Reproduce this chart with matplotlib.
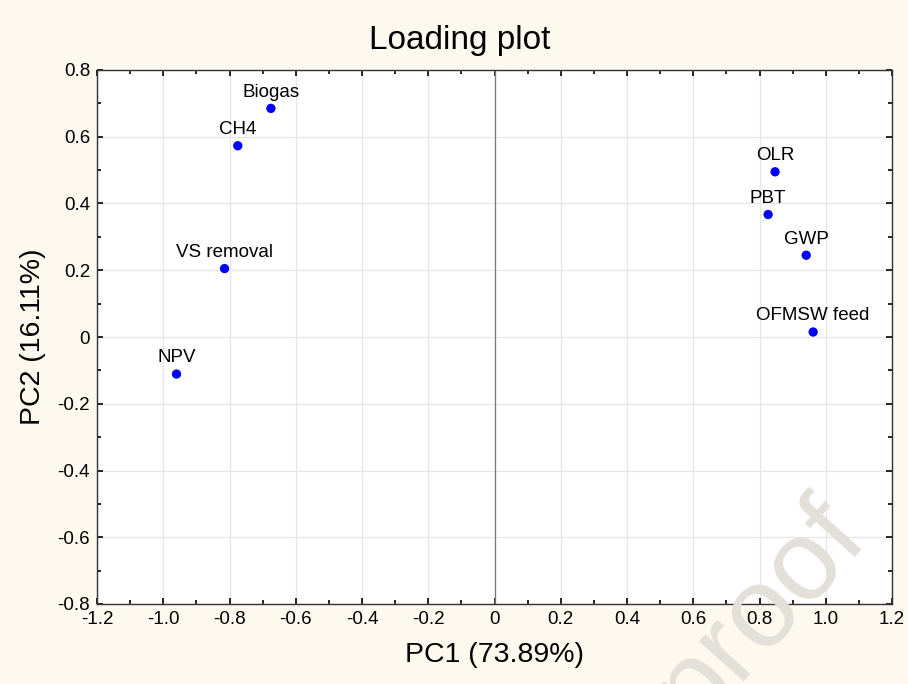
import matplotlib
matplotlib.use("Agg")
import matplotlib.pyplot as plt
from matplotlib.ticker import MultipleLocator, FuncFormatter

names = ["Biogas", "CH4", "VS removal", "NPV", "OLR", "PBT", "GWP", "OFMSW feed"]
pc1 = [-0.675, -0.775, -0.815, -0.960, 0.847, 0.826, 0.941, 0.962]
pc2 = [0.685, 0.573, 0.205, -0.111, 0.495, 0.367, 0.245, 0.015]

plt.rcParams['font.family'] = ['Liberation Sans', 'DejaVu Sans']
bg = '#FDF9EF'
fig = plt.figure(figsize=(9.08, 6.84), dpi=100, facecolor=bg)
ax = fig.add_axes([97/908, 1-604/684, (892-97)/908, (604-70)/684])
ax.set_facecolor('white')

ax.set_xlim(-1.2, 1.2)
ax.set_ylim(-0.8, 0.8)
ax.xaxis.set_major_locator(MultipleLocator(0.2))
ax.xaxis.set_minor_locator(MultipleLocator(0.1))
ax.yaxis.set_major_locator(MultipleLocator(0.2))
ax.yaxis.set_minor_locator(MultipleLocator(0.1))

def fmtx(v, pos):
    if abs(v) < 1e-9:
        return "0"
    return f"{v:.1f}"
ax.xaxis.set_major_formatter(FuncFormatter(fmtx))
ax.yaxis.set_major_formatter(FuncFormatter(fmtx))

ax.set_axisbelow(True)
ax.grid(True, which='major', color='#E6E6E6', linewidth=0.9)
ax.axvline(0, color='#777777', linewidth=0.9, zorder=2)

ax.tick_params(which='both', direction='in', top=True, right=True, labelsize=13.5, colors='black', pad=5)
ax.tick_params(which='major', length=4, width=1.2)
ax.tick_params(which='minor', length=3, width=1.2)
for s in ax.spines.values():
    s.set_color('#333333')
    s.set_linewidth(1.0)

ax.scatter(pc1, pc2, s=45, color='#0000FF', zorder=3, edgecolors='none')
for n, x, y in zip(names, pc1, pc2):
    ax.annotate(n, (x, y), xytext=(0, 5.5), textcoords='offset points',
                ha='center', va='bottom', fontsize=13.5, zorder=4)

ax.set_xlabel("PC1 (73.89%)", fontsize=20.5, labelpad=10)
ax.set_ylabel("PC2 (16.11%)", fontsize=20.5, labelpad=8)
fig.text(0.506, 1-40/684, "Loading plot", ha='center', va='center', fontsize=24)

fig.text(760/908, 1-612/684, "proof", fontsize=82, color='#E3E0DA',
         rotation=48, ha='center', va='center', zorder=10)

fig.savefig("out.png", dpi=100, facecolor=bg)
